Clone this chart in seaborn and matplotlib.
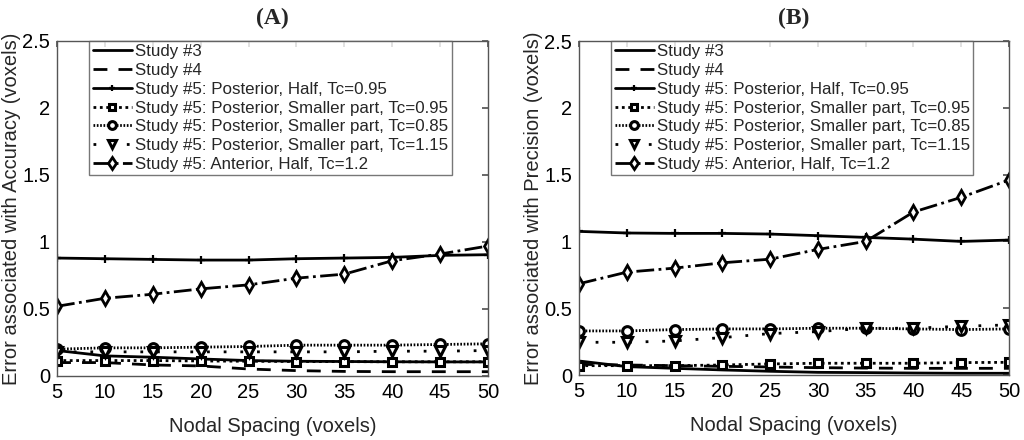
import numpy as np
import pandas as pd
import matplotlib
matplotlib.use("Agg")
import matplotlib.pyplot as plt
import seaborn as sns
from matplotlib.ticker import FuncFormatter

# nodal spacing (voxels)
spacing = [5, 10, 15, 20, 25, 30, 35, 40, 45, 50]

labels = ["Study #3",
          "Study #4",
          "Study #5: Posterior, Half, Tc=0.95",
          "Study #5: Posterior, Smaller part, Tc=0.95",
          "Study #5: Posterior, Smaller part, Tc=0.85",
          "Study #5: Posterior, Smaller part, Tc=1.15",
          "Study #5: Anterior, Half, Tc=1.2"]

# panel A - accuracy
acc_s3 = [0.19, 0.15, 0.14, 0.127, 0.115, 0.11, 0.108, 0.106, 0.105, 0.105]
acc_s4 = [0.10, 0.10, 0.082, 0.075, 0.052, 0.04, 0.034, 0.032, 0.032, 0.032]
acc_half = [0.88, 0.875, 0.87, 0.865, 0.865, 0.875, 0.88, 0.885, 0.9, 0.905]
acc_sq = [0.115, 0.115, 0.115, 0.112, 0.11, 0.108, 0.107, 0.106, 0.106, 0.106]
acc_circ = [0.20, 0.21, 0.21, 0.215, 0.22, 0.23, 0.23, 0.23, 0.235, 0.24]
acc_tri = [0.18, 0.18, 0.18, 0.18, 0.18, 0.18, 0.18, 0.185, 0.185, 0.19]
acc_ant = [0.52, 0.58, 0.61, 0.65, 0.68, 0.73, 0.76, 0.86, 0.91, 0.97]

# panel B - precision
pre_s3 = [0.105, 0.063, 0.05, 0.038, 0.028, 0.02, 0.018, 0.015, 0.013, 0.013]
pre_s4 = [0.08, 0.075, 0.07, 0.065, 0.06, 0.055, 0.052, 0.05, 0.05, 0.05]
pre_half = [1.075, 1.063, 1.06, 1.06, 1.055, 1.043, 1.03, 1.017, 1.0, 1.01]
pre_sq = [0.07, 0.07, 0.07, 0.075, 0.083, 0.088, 0.088, 0.088, 0.093, 0.095]
pre_circ = [0.33, 0.33, 0.34, 0.345, 0.345, 0.35, 0.35, 0.345, 0.34, 0.345]
pre_tri = [0.245, 0.245, 0.255, 0.28, 0.31, 0.325, 0.35, 0.35, 0.365, 0.375]
pre_ant = [0.683, 0.77, 0.80, 0.84, 0.867, 0.94, 1.0, 1.22, 1.33, 1.46]

sns.set_theme(style="white")
plt.rcParams["font.family"] = ["Liberation Sans", "DejaVu Sans"]
plt.rcParams.update({"xtick.direction": "in", "ytick.direction": "in",
                     "xtick.top": True, "ytick.right": True,
                     "xtick.major.size": 4, "ytick.major.size": 4,
                     "axes.edgecolor": "#555555", "axes.linewidth": 1.0,
                     "xtick.color": "#555555", "ytick.color": "#555555",
                     "xtick.labelcolor": "black", "ytick.labelcolor": "black"})

styles = [dict(linestyle="-", marker=None),
          dict(linestyle=(0, (5, 4)), marker=None),
          dict(linestyle="-", marker="+", markersize=6, markeredgewidth=1.6),
          dict(linestyle=(0, (1, 1.3)), marker="s", markersize=5.5, markeredgewidth=2.2),
          dict(linestyle=(0, (0.6, 0.6)), marker="o", markersize=7, markeredgewidth=2.2),
          dict(linestyle=(0, (1, 5)), marker="v", markersize=7.5, markeredgewidth=2.2),
          dict(linestyle="-.", marker="d", markersize=7.5, markeredgewidth=2.0)]

fig = plt.figure(figsize=(10.24, 4.4), dpi=100)
axA = fig.add_axes([0.0557, 0.1455, 0.4209, 0.7614])
axB = fig.add_axes([0.5654, 0.1477, 0.4200, 0.7591])

panels = [(axA, [acc_s3, acc_s4, acc_half, acc_sq, acc_circ, acc_tri, acc_ant],
           "(A)", "Error associated with Accuracy (voxels)"),
          (axB, [pre_s3, pre_s4, pre_half, pre_sq, pre_circ, pre_tri, pre_ant],
           "(B)", "Error associated with Precision (voxels)")]

for ax, series, title, ylab in panels:
    for vals, lab, st in zip(series, labels, styles):
        df = pd.DataFrame({"spacing": spacing, "err": vals})
        sns.lineplot(data=df, x="spacing", y="err", ax=ax, color="black",
                     linewidth=2, label=lab, markerfacecolor="white",
                     markeredgecolor="black", **st)
    ax.set_xlim(5, 50)
    ax.set_ylim(0, 2.5)
    ax.set_xticks(spacing)
    ax.set_yticks([0, 0.5, 1, 1.5, 2, 2.5])
    ax.yaxis.set_major_formatter(FuncFormatter(lambda v, p: "%g" % v))
    ax.tick_params(labelsize=14.5, pad=5)
    ax.set_xlabel("Nodal Spacing (voxels)", fontsize=14.5, labelpad=11)
    ax.set_ylabel(ylab, fontsize=14.5, labelpad=1)
    ax.set_title(title, fontsize=17, fontweight="bold",
                 family="Liberation Serif", pad=12)
    leg = ax.legend(loc="upper left", bbox_to_anchor=(0.075, 1.0),
                    fontsize=12.2, handlelength=2.3, handletextpad=0.2,
                    labelspacing=0.22, borderpad=0.2, borderaxespad=0.0,
                    markerscale=0.8, frameon=True, fancybox=False,
                    edgecolor="#555555")
    leg.get_frame().set_linewidth(1.0)

fig.savefig("out.png", dpi=100, facecolor="white")
